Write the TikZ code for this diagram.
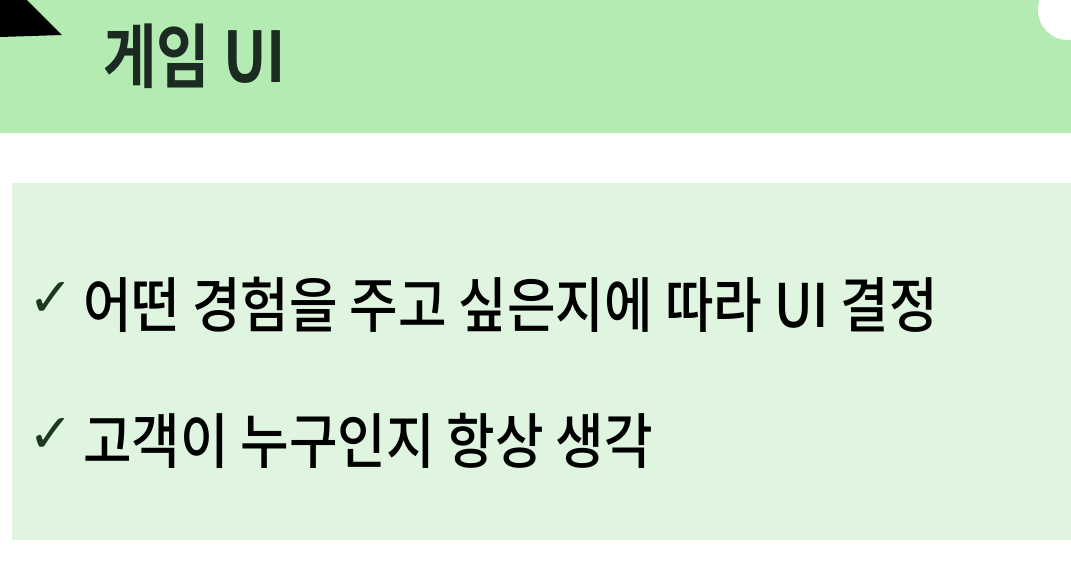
\documentclass[tikz,border=0pt]{standalone}
\usepackage{fontspec}
\setmainfont{Noto Sans CJK KR}
\newfontfamily\krfont[FakeStretch=0.88]{Noto Sans CJK KR Medium}
\newfontfamily\krtitle[FakeStretch=0.83]{Noto Sans CJK KR Bold}
\newfontfamily\symfont{DejaVu Sans}
\definecolor{headgreen}{HTML}{B3EBB3}
\definecolor{boxgreen}{HTML}{E0F5E0}
\definecolor{titleink}{HTML}{1C2B22}
\definecolor{checkink}{HTML}{1A3A1A}

\begin{document}
\begin{tikzpicture}[x=1pt, y=-1pt,
		title/.style={anchor=base west, inner sep=0pt, font=\krtitle\fontsize{70}{70}\selectfont, text=titleink},
		item/.style={anchor=base west, inner sep=0pt, font=\krfont\fontsize{60}{60}\selectfont, text=black},
		tick/.style={anchor=base west, inner sep=0pt, font=\symfont\fontsize{54}{54}\selectfont, text=checkink}]
			\useasboundingbox (0,0) rectangle (1071,563);
			\fill[white] (0,0) rectangle (1071,563);
			
			% Header band and corner marks
			\fill[headgreen] (0,0) rectangle (1071,133);
			\fill[black] (0,0) -- (27,0) -- (62,35) -- (0,37) -- cycle;
			\fill[white] (1068,10) circle (30);
			\node[title] (heading) at (103,82) {게임 UI};
			
			% Content box
			\fill[boxgreen] (12,183) rectangle (1071,540);
			
			% Check items
			\node[tick] (check1) at (28,316) {✓};
			\node[item] (item1) at (83,327) {어떤 경험을 주고 싶은지에 따라 UI 결정};
			\node[tick] (check2) at (28,452) {✓};
			\node[item] (item2) at (83,463) {고객이 누구인지 항상 생각};
		\end{tikzpicture}
\end{document}
